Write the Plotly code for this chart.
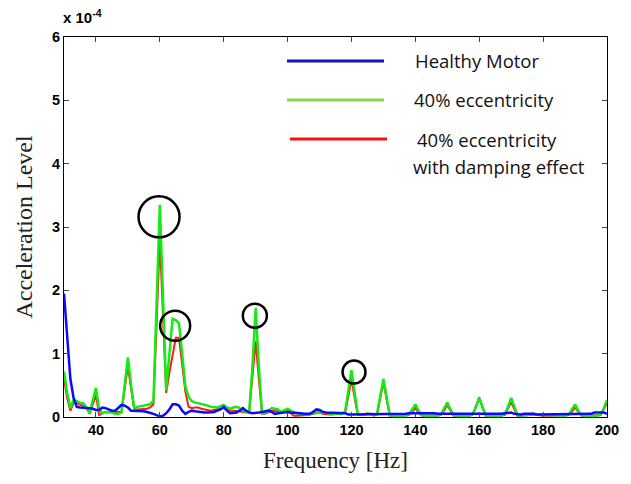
import plotly.graph_objects as go

freq = list(range(30, 201))

healthy = [
    1.95, 1.2, 0.6, 0.3, 0.16, 0.15, 0.15, 0.15, 0.14, 0.13,   # 30-39
    0.11, 0.11, 0.15, 0.14, 0.12, 0.1, 0.1, 0.15, 0.19, 0.18,  # 40-49
    0.15, 0.1, 0.1, 0.1, 0.1, 0.09, 0.08, 0.07, 0.05, 0.03,    # 50-59
    0.01, 0.02, 0.06, 0.12, 0.2, 0.2, 0.18, 0.1, 0.05, 0.08,   # 60-69
    0.1, 0.09, 0.08, 0.07, 0.07, 0.07, 0.07, 0.08, 0.1, 0.12,  # 70-79
    0.16, 0.1, 0.06, 0.06, 0.07, 0.1, 0.14, 0.1, 0.07, 0.06,   # 80-89
    0.06, 0.07, 0.08, 0.09, 0.1, 0.08, 0.05, 0.06, 0.07, 0.07, # 90-99
    0.08, 0.07, 0.07, 0.06, 0.06, 0.05, 0.05, 0.05, 0.08, 0.12,# 100-109
    0.11, 0.08, 0.07, 0.07, 0.07, 0.07, 0.07, 0.07, 0.06, 0.04,# 110-119
    0.04, 0.05, 0.05, 0.05, 0.05, 0.05, 0.05, 0.05, 0.05, 0.04,# 120-129
    0.04, 0.05, 0.05, 0.05, 0.05, 0.05, 0.05, 0.05, 0.06, 0.06,# 130-139
    0.07, 0.06, 0.06, 0.06, 0.06, 0.06, 0.06, 0.05, 0.05, 0.05,# 140-149
    0.05, 0.05, 0.05, 0.05, 0.05, 0.05, 0.05, 0.05, 0.05, 0.04,# 150-159
    0.04, 0.04, 0.05, 0.05, 0.05, 0.05, 0.05, 0.05, 0.06, 0.07,# 160-169
    0.07, 0.05, 0.04, 0.04, 0.05, 0.05, 0.06, 0.05, 0.04, 0.04,# 170-179
    0.04, 0.04, 0.04, 0.04, 0.05, 0.05, 0.05, 0.05, 0.05, 0.05,# 180-189
    0.05, 0.05, 0.05, 0.05, 0.05, 0.05, 0.07, 0.07, 0.07, 0.07,# 190-199
    0.05,                                                      # 200
]

ecc40 = [
    0.72, 0.38, 0.14, 0.27, 0.25, 0.22, 0.22, 0.15, 0.06, 0.25,  # 30-39
    0.46, 0.12, 0.06, 0.08, 0.08, 0.07, 0.05, 0.05, 0.07, 0.5,   # 40-49
    0.94, 0.5, 0.14, 0.16, 0.17, 0.18, 0.18, 0.2, 0.26, 1.8,     # 50-59
    3.35, 1.9, 0.42, 1.0, 1.55, 1.53, 1.48, 1.0, 0.48, 0.32,     # 60-69
    0.25, 0.23, 0.22, 0.21, 0.2, 0.18, 0.16, 0.15, 0.15, 0.17,   # 70-79
    0.19, 0.15, 0.13, 0.15, 0.16, 0.14, 0.1, 0.08, 0.1, 0.8,     # 80-89
    1.72, 0.8, 0.06, 0.06, 0.1, 0.14, 0.13, 0.12, 0.08, 0.1,     # 90-99
    0.13, 0.1, 0.07, 0.06, 0.05, 0.04, 0.04, 0.05, 0.06, 0.07,   # 100-109
    0.08, 0.07, 0.06, 0.06, 0.05, 0.05, 0.05, 0.05, 0.08, 0.4,   # 110-119
    0.74, 0.38, 0.04, 0.03, 0.04, 0.05, 0.05, 0.03, 0.05, 0.33,  # 120-129
    0.6, 0.32, 0.03, 0.02, 0.02, 0.02, 0.02, 0.02, 0.04, 0.12,   # 130-139
    0.2, 0.1, 0.03, 0.02, 0.02, 0.02, 0.02, 0.02, 0.04, 0.13,    # 140-149
    0.23, 0.12, 0.03, 0.02, 0.02, 0.02, 0.02, 0.02, 0.05, 0.16,  # 150-159
    0.3, 0.15, 0.03, 0.02, 0.02, 0.02, 0.02, 0.02, 0.05, 0.16,   # 160-169
    0.3, 0.15, 0.03, 0.02, 0.02, 0.03, 0.04, 0.05, 0.04, 0.03,   # 170-179
    0.03, 0.03, 0.03, 0.02, 0.02, 0.02, 0.02, 0.02, 0.04, 0.11,  # 180-189
    0.2, 0.1, 0.03, 0.02, 0.02, 0.02, 0.02, 0.02, 0.04, 0.14,    # 190-199
    0.27,                                                        # 200
]

ecc40_damped = [
    0.6, 0.3, 0.1, 0.22, 0.22, 0.2, 0.18, 0.15, 0.05, 0.2,       # 30-39
    0.35, 0.03, 0.05, 0.08, 0.08, 0.08, 0.07, 0.07, 0.08, 0.45,  # 40-49
    0.8, 0.45, 0.12, 0.12, 0.12, 0.12, 0.13, 0.15, 0.2, 1.5,     # 50-59
    2.8, 1.6, 0.38, 0.7, 1.0, 1.25, 1.25, 0.8, 0.4, 0.16,        # 60-69
    0.14, 0.15, 0.15, 0.13, 0.12, 0.11, 0.1, 0.11, 0.12, 0.12,   # 70-79
    0.14, 0.12, 0.1, 0.1, 0.1, 0.09, 0.08, 0.07, 0.08, 0.6,      # 80-89
    1.2, 0.6, 0.05, 0.05, 0.08, 0.1, 0.1, 0.08, 0.07, 0.1,       # 90-99
    0.12, 0.06, 0.02, 0.02, 0.02, 0.02, 0.03, 0.04, 0.05, 0.06,  # 100-109
    0.07, 0.05, 0.04, 0.04, 0.04, 0.04, 0.05, 0.06, 0.07, 0.32,  # 110-119
    0.6, 0.3, 0.03, 0.03, 0.05, 0.06, 0.05, 0.02, 0.04, 0.3,     # 120-129
    0.55, 0.28, 0.02, 0.02, 0.02, 0.02, 0.02, 0.02, 0.03, 0.08,  # 130-139
    0.14, 0.07, 0.02, 0.02, 0.02, 0.02, 0.02, 0.02, 0.03, 0.1,   # 140-149
    0.19, 0.1, 0.02, 0.02, 0.02, 0.02, 0.02, 0.02, 0.04, 0.17,   # 150-159
    0.31, 0.15, 0.02, 0.02, 0.02, 0.02, 0.02, 0.02, 0.03, 0.13,  # 160-169
    0.24, 0.12, 0.02, 0.02, 0.02, 0.02, 0.03, 0.04, 0.03, 0.02,  # 170-179
    0.02, 0.02, 0.02, 0.02, 0.02, 0.02, 0.02, 0.02, 0.03, 0.08,  # 180-189
    0.15, 0.08, 0.02, 0.02, 0.02, 0.02, 0.02, 0.02, 0.03, 0.12,  # 190-199
    0.22,                                                        # 200
]

x_ticks = [40, 60, 80, 100, 120, 140, 160, 180, 200]
y_ticks = [0, 1, 2, 3, 4, 5, 6]

# highlighted peaks: (frequency, level, circle diameter in px)
highlights = [(59.75, 3.16, 41), (64.8, 1.44, 30), (89.75, 1.6, 24), (120.8, 0.71, 23)]

legend_names = ["Healthy Motor", "40% eccentricity", "40% eccentricity"]
legend_colors = ["#1414b4", "#8fd14f", "#ff1010"]
legend_extra_line = "with damping effect"

fig = go.Figure()
fig.add_trace(go.Scatter(x=freq, y=ecc40_damped, mode="lines",
                         line=dict(color="#ff1a1a", width=2), showlegend=False))
fig.add_trace(go.Scatter(x=freq, y=ecc40, mode="lines",
                         line=dict(color="#14ea14", width=2.5), showlegend=False))
fig.add_trace(go.Scatter(x=freq, y=healthy, mode="lines",
                         line=dict(color="#0a0aff", width=2.5), showlegend=False))

shapes = []
for fx, fy, d in highlights:
    r = d / 2
    shapes.append(dict(type="circle", xref="x", yref="y",
                       xsizemode="pixel", ysizemode="pixel",
                       xanchor=fx, yanchor=fy, x0=-r, x1=r, y0=-r, y1=r,
                       line=dict(color="black", width=2.5)))

annotations = []
# manual legend (screen px of plot area: x 64..607, y 37..417)
pw, ph = 543.0, 380.0
def px_x(v):
    return (v - 64) / pw
def px_y(v):
    return (417 - v) / ph

leg_rows = [(61, 287, 384, 413), (100, 287, 384, 412), (139, 290, 387, 415)]
legend_font = dict(family="Open Sans", size=18.5, color="#111")
for name, col, (ly, lx0, lx1, tx) in zip(legend_names, legend_colors, leg_rows):
    shapes.append(dict(type="line", xref="paper", yref="paper",
                       x0=px_x(lx0), x1=px_x(lx1), y0=px_y(ly), y1=px_y(ly),
                       line=dict(color=col, width=3)))
    annotations.append(dict(xref="paper", yref="paper", x=px_x(tx), y=px_y(ly),
                            text=name, showarrow=False, xanchor="left", yanchor="middle",
                            font=legend_font))
annotations.append(dict(xref="paper", yref="paper", x=px_x(411), y=px_y(167),
                        text=legend_extra_line, showarrow=False, xanchor="left", yanchor="middle",
                        font=legend_font))

annotations.append(dict(xref="paper", yref="paper", x=-0.005, y=1.025, xanchor="left", yanchor="bottom",
                        text="x 10<sup>-4</sup>", showarrow=False,
                        font=dict(family="Liberation Sans", size=15, color="black", weight="bold")))

fig.update_layout(
    width=623, height=476,
    margin=dict(l=56, r=24, t=29, b=67),
    paper_bgcolor="white", plot_bgcolor="white",
    shapes=shapes, annotations=annotations,
    xaxis=dict(range=[30, 200], tickvals=x_ticks, ticks="inside", ticklen=5,
               showline=True, linecolor="black", linewidth=1, mirror="ticks",
               showgrid=False, zeroline=False,
               tickfont=dict(family="Liberation Sans", size=14.5, color="black", weight="bold"),
               title=dict(text="Frequency [Hz]", standoff=14,
                          font=dict(family="Liberation Serif", size=23, color="#222"))),
    yaxis=dict(range=[0, 6], tickvals=y_ticks, ticks="inside", ticklen=5,
               showline=True, linecolor="black", linewidth=1, mirror="ticks",
               showgrid=False, zeroline=False,
               tickfont=dict(family="Liberation Sans", size=14.5, color="black", weight="bold"),
               title=dict(text="Acceleration Level", standoff=12,
                          font=dict(family="Liberation Serif", size=24, color="#222"))),
)

fig.write_html("out.html")
